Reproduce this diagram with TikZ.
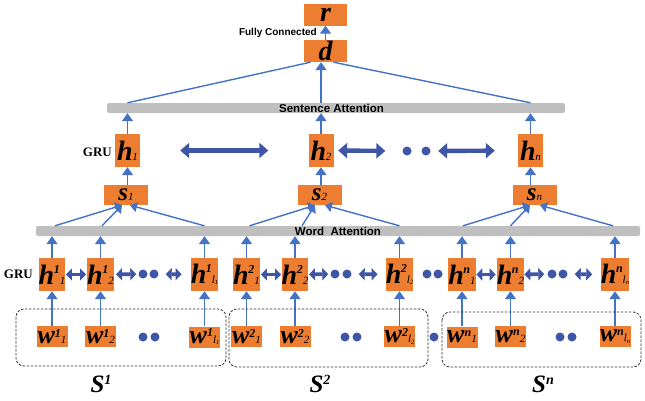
\documentclass[tikz,border=0pt]{standalone}
\usepackage{fontspec}
\setmainfont{Liberation Serif}
\newfontfamily\sansf{Liberation Sans}
\usetikzlibrary{arrows.meta,calc}
\definecolor{ora}{HTML}{ED7D31}
\definecolor{lblue}{HTML}{4472C4}
\definecolor{dblue}{HTML}{3F56A6}
\definecolor{barg}{HTML}{BFBFBF}
\newcommand\fs[1]{\fontsize{#1}{#1}\selectfont}
\newcommand\SupUp[2]{\raisebox{#1}{\fs{12}\bfseries\itshape #2}}
\newcommand\SubDn[1]{{\fs{11}\itshape #1}}
\newcommand\Lsub[1]{{\fs{11}\itshape l\raisebox{-1.5pt}{\fs{6.5}#1}}}
\newcommand\HH[2]{{\bfseries\itshape h}\kern-0.5pt\SupUp{11pt}{#1}#2}
\newcommand\WW[2]{{\bfseries\itshape w}\SupUp{6.5pt}{#1}#2}
\tikzset{
  ob/.style={fill=ora, draw=none, inner sep=0pt, text=black},
  hbox/.style={ob, minimum width=25pt, minimum height=33pt, font=\fs{28}},
  wbox/.style={ob, minimum width=31pt, minimum height=21pt, font=\fs{26}},
  sbox/.style={ob, minimum width=44pt, minimum height=20pt, font=\fs{25}\bfseries\itshape},
  tbox/.style={ob, minimum width=43pt, minimum height=22pt, font=\fs{28}\bfseries\itshape},
  bar/.style={fill=barg, draw=none, rounded corners=2pt, inner sep=0pt, minimum height=10pt},
  dot/.style={circle, fill=dblue, draw=none, minimum size=9pt, inner sep=0pt},
  varr/.style={draw=lblue, line width=1.6pt, -{Triangle[length=8pt,width=11pt]}},
  cline/.style={draw=lblue, line width=1.4pt},
  carr/.style={draw=lblue, line width=1.4pt, -{Triangle[length=7pt,width=10pt]}},
  dblw/.style={draw=dblue, line width=3.8pt, {Triangle[length=6pt,width=12pt]}-{Triangle[length=6pt,width=12pt]}},
  dbls/.style={draw=dblue, line width=4.4pt, {Triangle[length=9pt,width=15pt]}-{Triangle[length=9pt,width=15pt]}},
  grp/.style={draw=black!80, line width=0.8pt, dash pattern=on 2.5pt off 1.5pt, rounded corners=8pt},
  gru/.style={font=\fs{13}\bfseries, inner sep=0pt},
  slab/.style={font=\fs{25}\bfseries\itshape, inner sep=0pt},
}
\begin{document}
\begin{tikzpicture}[x=1pt,y=-1pt]
\useasboundingbox (0,0) rectangle (645,400);
% top
\node[tbox] (r) at (325.5,14.5) {r};
\node[tbox] (d) at (325.5,51) {d};
\node[font=\sansf\fs{10}\bfseries, anchor=east, inner sep=0pt] (fc) at (317,33) {Fully Connected};
\draw[varr] (d.north) -- (r.south);
% sentence attention
\node[bar, minimum width=458pt] (sbar) at (336,108) {};
\node[font=\sansf\fs{11.5}\bfseries, inner sep=0pt] (stxt) at (331.5,108) {Sentence Attention};
\node[hbox] (h1) at (127.5,150.5) {\HH{}{\SubDn{1}}};
\node[hbox] (h2) at (321,150.5) {\HH{}{\SubDn{2}}};
\node[hbox] (hn) at (530.5,150.5) {\HH{}{\SubDn{n}}};
\node[gru, anchor=east] (gru1) at (112,152) {GRU};
\node[sbox] (s1) at (126,195) {s\SubDn{\mdseries 1}};
\node[sbox] (s2) at (319.5,195) {s\SubDn{\mdseries 2}};
\node[sbox] (sn) at (534.5,195) {s\SubDn{\mdseries n}};
\node[dot] (sd1) at (407,151) {};
\node[dot] (sd2) at (426,151) {};
\draw[varr] (s1.north -| h1) -- (h1.south);
\draw[varr] (s2.north -| h2) -- (h2.south);
\draw[varr] (sn.north -| hn) -- (hn.south);
\draw[varr] (h1.north) -- (sbar.south -| h1);
\draw[varr] (h2.north) -- (sbar.south -| h2);
\draw[varr] (hn.north) -- (sbar.south -| hn);
\draw[dbls, shorten <=40pt, shorten >=40pt] (h1.east) -- (h2.west);
\draw[dbls, shorten <=4.5pt, shorten >=17pt] (h2.east) -- (sd1.west);
\draw[dbls, shorten <=7.5pt, shorten >=23pt] (sd2.east) -- (hn.west);
% d connections
\draw[cline] (sbar.north -| h1) -- ($(d.south)+(-15,0)$);
\draw[cline] (sbar.north -| hn) -- ($(d.south)+(8,0)$);
\draw[varr] (sbar.north -| h2) -- (d.south -| h2);
% word attention
\node[bar, minimum width=604pt] (wbar) at (338,231) {};
\node[font=\sansf\fs{11.5}\bfseries, inner sep=0pt] (wtxt) at (338,231) {Word\ \ Attention};
% word-level h
\node[hbox] (h11) at (52,274.5) {\HH{1}{\SubDn{1}}};
\node[hbox] (h12) at (100.5,274.5) {\HH{1}{\SubDn{2}}};
\node[hbox] (h1l) at (204.5,274.5) {\HH{1}{\Lsub{1}}};
\node[hbox] (h21) at (246.5,274.5) {\HH{2}{\SubDn{1}}};
\node[hbox] (h22) at (295,274.5) {\HH{2}{\SubDn{2}}};
\node[hbox] (h2l) at (399.5,274.5) {\HH{2}{\Lsub{2}}};
\node[hbox] (hn1) at (462,274.5) {\HH{n}{\SubDn{1}}};
\node[hbox] (hn2) at (510.5,274.5) {\HH{n}{\SubDn{2}}};
\node[hbox] (hnl) at (615,274.5) {\HH{n}{\Lsub{n}}};
\node[gru, anchor=east] (gru2) at (33,274) {GRU};
% word boxes
\node[wbox] (w11) at (52,336.5) {\WW{1}{\SubDn{1}}};
\node[wbox] (w12) at (100.5,336.5) {\WW{1}{\SubDn{2}}};
\node[wbox] (w1l) at (204.5,337) {\WW{1}{\Lsub{1}}};
\node[wbox] (w21) at (246.5,336.5) {\WW{2}{\SubDn{1}}};
\node[wbox] (w22) at (295,336.5) {\WW{2}{\SubDn{2}}};
\node[wbox] (w2l) at (399.5,336.5) {\WW{2}{\Lsub{2}}};
\node[wbox] (wn1) at (462,337) {\WW{n}{\SubDn{1}}};
\node[wbox] (wn2) at (510.5,336.5) {\WW{n}{\SubDn{2}}};
\node[wbox] (wnl) at (615,336.5) {\WW{n}{\Lsub{n}}};
% dots in h row
\node[dot] (d1a) at (143,274) {};
\node[dot] (d1b) at (154,274) {};
\node[dot] (d2a) at (335,274) {};
\node[dot] (d2b) at (347,274) {};
\node[dot] (dxa) at (427,274) {};
\node[dot] (dxb) at (438,274) {};
\node[dot] (d3a) at (552,274) {};
\node[dot] (d3b) at (563,274) {};
% dots in w row
\node[dot] (e1a) at (143,337) {};
\node[dot] (e1b) at (155,337) {};
\node[dot] (e2a) at (345,337) {};
\node[dot] (e2b) at (357,337) {};
\node[dot] (ex) at (434,337) {};
\node[dot] (e3a) at (560,337) {};
\node[dot] (e3b) at (572,337) {};
% double arrows word level
\draw[dblw, shorten <=0.5pt, shorten >=1pt] (h11.east) -- (h12.west);
\draw[dblw, shorten <=2pt, shorten >=2pt] (h12.east) -- (d1a.west);
\draw[dblw, shorten <=7pt, shorten >=9pt] (d1b.east) -- (h1l.west);
\draw[dblw, shorten <=1pt, shorten >=0.5pt] (h21.east) -- (h22.west);
\draw[dblw, shorten <=0.5pt, shorten >=2pt] (h22.east) -- (d2a.west);
\draw[dblw, shorten <=7pt, shorten >=8pt] (d2b.east) -- (h2l.west);
\draw[dblw, shorten <=0.5pt, shorten >=1pt] (hn1.east) -- (hn2.west);
\draw[dblw, shorten <=0pt, shorten >=3pt] (hn2.east) -- (d3a.west);
\draw[dblw, shorten <=7pt, shorten >=8.5pt] (d3b.east) -- (hnl.west);
% vertical arrows word level
\foreach \a/\b in {w11/h11,w12/h12,w1l/h1l,w21/h21,w22/h22,w2l/h2l,wn1/hn1,wn2/hn2,wnl/hnl}{
  \draw[varr] (\a.north) -- (\b.south);
  \draw[varr] (\b.north) -- (wbar.south -| \b);
}
% word bar to sentence vectors
\draw[carr] ($(wbar.north -| h11)+(3,0)$) -- ($(s1.south)+(-4,0)$);
\draw[carr] ($(wbar.north -| h12)+(1.5,0)$) -- ($(s1.south)+(-4,0)$);
\draw[carr] (wbar.north -| h1l) -- ($(s1.south)+(4,0)$);
\draw[carr] ($(wbar.north -| h21)+(3,0)$) -- ($(s2.south)+(-4.5,0)$);
\draw[carr] ($(wbar.north -| h22)+(7,0)$) -- ($(s2.south)+(-4.5,0)$);
\draw[carr] (wbar.north -| h2l) -- ($(s2.south)+(5.5,0)$);
\draw[carr] ($(wbar.north -| hn1)+(1,0)$) -- ($(sn.south)+(-4.5,0)$);
\draw[carr] (wbar.north -| hn2) -- ($(sn.south)+(-4.5,0)$);
\draw[carr] ($(wbar.north -| hnl)+(-2,0)$) -- ($(sn.south)+(5.5,0)$);
% sentence groups
\draw[grp] (16,309) rectangle (226,366);
\draw[grp] (229,309) rectangle (428,367);
\draw[grp] (442,312) rectangle (641,367);
\node[slab] (S1) at (101,384) {S\raisebox{8pt}{\fs{14}1}};
\node[slab] (S2) at (320,384) {S\raisebox{8pt}{\fs{14}2}};
\node[slab] (Sn) at (543,384) {S\raisebox{8pt}{\fs{14}n}};
\end{tikzpicture}
\end{document}
